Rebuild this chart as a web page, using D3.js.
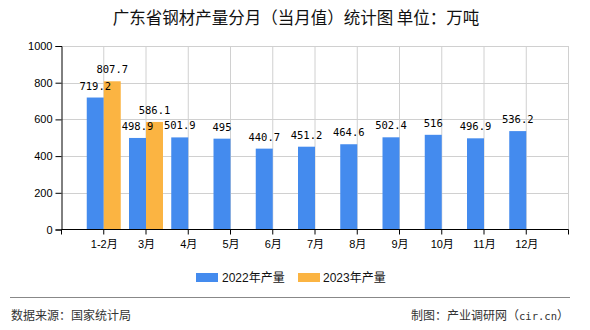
<!DOCTYPE html>
<html><head><meta charset="utf-8">
<script src="https://cdn.jsdelivr.net/npm/d3@7/dist/d3.min.js"></script>
<style>
html,body{margin:0;padding:0;background:#fff;}
svg{display:block;}
</style></head>
<body>
<svg id="c" width="590" height="330"></svg>
<script>
const categories = ["1-2月","3月","4月","5月","6月","7月","8月","9月","10月","11月","12月"];
const values2022 = [719.2,498.9,501.9,495,440.7,451.2,464.6,502.4,516,496.9,536.2];
const values2023 = [807.7,586.1,null,null,null,null,null,null,null,null,null];
const seriesNames = ["2022年产量","2023年产量"];
const yTicks = [0,200,400,600,800,1000];
const titleText = "广东省钢材产量分月（当月值）统计图 单位：万吨";
const sourceText = "数据来源：国家统计局";
const creditParts = ["制图：产业调研网（", "cir.cn", "）"];

const colors = ["#448bee","#fbb442"];
const svg = d3.select("#c");
const L = 61.5, R = 568.5, T = 46, B = 229.5;
const x = d3.scalePoint().domain(categories).range([L, R]).padding(1);
const y = d3.scaleLinear().domain([0, 1000]).range([B, T]);
const step = x.step();
const bw = 17;
const sans = "'Liberation Sans', Arial, 'Noto Sans CJK SC', sans-serif";
const cjk = "'Noto Sans CJK SC', 'Liberation Sans', sans-serif";
const mono = "'DejaVu Sans Mono', 'Liberation Mono', monospace";

// title
svg.append("text").attr("x", 296).attr("y", 24).attr("text-anchor","middle")
  .style("font-family", cjk).style("font-size","16.5px").attr("fill","#111").text(titleText);

// grid
const tickXs = d3.range(0, categories.length + 2).map(i => L + i * step);
const g = svg.append("g");
g.selectAll("line.vg").data(tickXs.slice(1)).join("line")
  .attr("x1", d => d).attr("x2", d => d).attr("y1", T).attr("y2", B)
  .attr("stroke","#d0d0d0").attr("stroke-width",1);
g.selectAll("line.hg").data(yTicks.slice(1)).join("line")
  .attr("x1", L).attr("x2", R).attr("y1", d => Math.round(y(d))+0.5).attr("y2", d => Math.round(y(d))+0.5)
  .attr("stroke","#d0d0d0").attr("stroke-width",1);

// bars
categories.forEach((c, i) => {
  const cx = x(c);
  if (values2022[i] != null) svg.append("rect").attr("x", cx - bw).attr("width", bw)
    .attr("y", y(values2022[i])).attr("height", B - y(values2022[i])).attr("fill", colors[0]);
  if (values2023[i] != null) svg.append("rect").attr("x", cx).attr("width", bw)
    .attr("y", y(values2023[i])).attr("height", B - y(values2023[i])).attr("fill", colors[1]);
});

// value labels
categories.forEach((c, i) => {
  const cx = x(c);
  [[values2022[i], cx - bw/2], [values2023[i], cx + bw/2]].forEach(([v, px]) => {
    if (v == null) return;
    svg.append("text").attr("x", px).attr("y", y(v) - 8).attr("text-anchor","middle")
      .style("font-family", mono).style("font-size","10.5px").attr("fill","#000").text(v);
  });
});

// axes
const yAxis = d3.axisLeft(y).tickValues(yTicks).tickFormat(d3.format("d")).tickSize(6).tickPadding(3);
const ya = svg.append("g").attr("transform", `translate(${L},0)`).call(yAxis);
ya.select(".domain").attr("stroke","#000");
ya.selectAll(".tick line").attr("stroke","#000");
ya.selectAll("text").style("font-family", sans).style("font-size","11px").attr("fill","#000");

const xa = svg.append("g").attr("transform", `translate(0,${B})`);
xa.append("line").attr("x1", L).attr("x2", R).attr("y1", 0).attr("y2", 0).attr("stroke","#000");
xa.selectAll("line.t").data(tickXs).join("line")
  .attr("x1", d => d).attr("x2", d => d).attr("y1", 0).attr("y2", 5).attr("stroke","#000");
const xAxis = d3.axisBottom(x).tickSize(0).tickPadding(0);
const xg = svg.append("g").attr("transform", `translate(0,${B})`).call(xAxis);
xg.select(".domain").remove();
xg.selectAll("text").attr("dy", null).attr("y", 18.5).style("font-family", sans).style("font-size","11px").attr("fill","#000");

// legend
const leg = [[196, 222], [298, 323]];
seriesNames.forEach((n, i) => {
  svg.append("rect").attr("x", leg[i][0]).attr("y", 273).attr("width", 22).attr("height", 9).attr("fill", colors[i]);
  svg.append("text").attr("x", leg[i][1]).attr("y", 281.5).style("font-family", sans)
    .style("font-size","12px").attr("fill","#111").text(n);
});

// footer
svg.append("line").attr("x1", 10).attr("x2", 570).attr("y1", 297.5).attr("y2", 297.5).attr("stroke","#888").attr("stroke-width",1);
svg.append("text").attr("x", 11).attr("y", 320).style("font-family", cjk).style("font-size","12px").attr("fill","#333").text(sourceText);
const ct = svg.append("text").attr("x", 569).attr("y", 320).attr("text-anchor","end").style("font-family", cjk).style("font-size","12px").attr("fill","#333");
ct.append("tspan").text(creditParts[0]);
ct.append("tspan").style("font-family", mono).style("font-size","10.5px").text(creditParts[1]);
ct.append("tspan").text(creditParts[2]);
</script>
</body></html>
